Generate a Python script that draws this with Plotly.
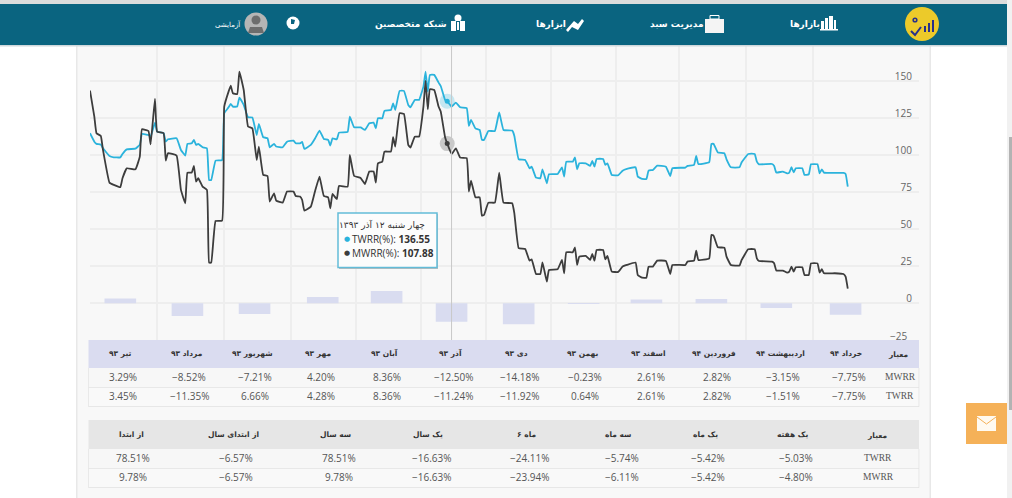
"""Portfolio return page - TWRR/MWRR chart with monthly bars and two tables."""
import plotly.graph_objects as go

W, H = 1012, 498

# trading days, counted from 1 Tir 93
days = [0, 2, 3, 5, 6, 9, 11, 14, 15, 17, 21, 23, 24, 27, 28, 30, 31, 34, 35, 36, 40, 42, 44, 45, 47, 48, 49, 50,
        52, 54, 55, 56, 58, 61, 62, 64, 65, 66, 68, 69, 71, 73, 75, 77, 78, 80, 82, 83, 85, 86, 89, 91, 94, 95, 97,
        98, 99, 102, 104, 106, 108, 110, 111, 112, 114, 115, 119, 120, 122, 125, 127, 129, 131, 132, 133, 135, 136,
        139, 140, 141, 143, 145, 147, 148, 150, 152, 154, 155, 156, 157, 159, 161, 162, 164, 165, 167, 169, 171,
        174, 175, 176, 178, 180, 181, 182, 184, 187, 189, 191, 195, 196, 198, 201, 203, 204, 206, 208, 209, 211,
        212, 216, 218, 219, 220, 223, 224, 225, 226, 229, 231, 232, 233, 234, 237, 238, 239, 241, 244, 246, 248,
        252, 253, 255, 257, 258, 260, 262, 266, 268, 269, 275, 276, 279, 280, 281, 286, 287, 288, 290, 293, 294,
        296, 300, 301, 304, 307, 308, 309, 315, 316, 317, 320, 322, 323, 324, 325, 326, 329, 330, 332, 333, 336,
        337, 338, 339, 344, 348, 349, 350]

twrr = [114.9, 109.2, 107.7, 107.2, 104.7, 99.5, 98.6, 98.6, 100.9, 104, 104.5, 107.2, 114.4, 113.7, 112.6, 122.1,
        116, 114.9, 109.2, 110.8, 111.5, 103.6, 99.8, 107.7, 108.1, 110.4, 107, 107.7, 105.4, 104.7, 83.3, 83.3,
        96.4, 96.8, 128.4, 132.4, 134.7, 132.9, 132.9, 139, 134, 125.7, 125.5, 113.7, 121.2, 112.2, 111.5, 105.4,
        107.7, 105.9, 105.4, 109.2, 109.9, 108.1, 108.1, 109, 104.3, 107, 111.5, 116.7, 111, 110.4, 106.5, 111.5,
        110.8, 115.3, 115.8, 126.1, 118.9, 118.9, 117.1, 121.6, 122.1, 118.2, 125, 125, 130, 130.6, 135.1, 130.6,
        143.5, 143.5, 134, 132.4, 137.4, 137.4, 146.4, 156.5, 143, 154.3, 154.3, 149.1, 146.8, 137.4, 136.55, 132.9,
        135.6, 132.4, 131.8, 119.8, 123.9, 118.2, 117.1, 110.4, 110.4, 116.4, 116.4, 129, 117.1, 116.7, 113.1, 97.3,
        96.8, 91.2, 92.3, 84.9, 84.5, 90.5, 81.1, 87.2, 87.4, 91.9, 85.6, 95.7, 95.7, 98.6, 90.5, 94.6, 94.6, 92.8,
        96.2, 92.3, 97.5, 97.5, 93.5, 94.6, 86.7, 86.5, 89.6, 90.8, 91.9, 85.6, 84, 84, 89.6, 90.1, 93, 92.3, 86,
        91.2, 91.7, 92.8, 93.5, 99.5, 94.1, 95.3, 107.7, 107.7, 101.8, 101.4, 97.3, 91.9, 91.9, 95.3, 100.9, 100.9,
        95.7, 93.9, 94.1, 92.8, 88.3, 89, 87.8, 88.3, 91.9, 88.5, 91.2, 91.2, 86.7, 87.2, 93.9, 93.9, 87.8, 90.5,
        88.3, 88.1, 88.1, 87.4, 78.8]

mwrr = [143.7, 126.1, 114.9, 113.1, 103.6, 81.5, 80, 78.4, 84.5, 91.2, 90.5, 99.1, 117.6, 116.4, 107.4, 138.1, 116,
        114.9, 96.4, 101.4, 99.8, 76.6, 67.6, 88.3, 88.3, 92.8, 82.2, 84.5, 78.8, 76.6, 27.5, 27.5, 55.6, 55.9,
        132.9, 143, 147, 141.9, 141.4, 156.5, 144.1, 119.4, 118.2, 96.8, 105.9, 86.7, 86, 68.7, 74.3, 69.4, 68,
        75.5, 75.5, 72.5, 72.1, 69.8, 62.6, 65.3, 76.1, 85.6, 72.5, 71.6, 64.2, 73.9, 70.3, 79.3, 78.8, 100.2, 86,
        84.7, 80.6, 89, 89, 81.5, 94.6, 95.7, 102.5, 102.5, 112.2, 105.9, 128.4, 127.9, 107, 105.2, 112.6, 112.6,
        132.9, 150.5, 131.1, 144.6, 144.1, 132.9, 129.5, 112.2, 107.88, 100.9, 104.7, 98.4, 98, 75.5, 82.9, 71.6,
        71.6, 59.2, 59.7, 68, 68, 88.3, 68, 67.6, 60.8, 37.2, 36.7, 28.8, 29.7, 19.8, 19.8, 27.7, 14.6, 22.5, 23,
        29.3, 20.3, 34.5, 34.5, 37.8, 25.9, 31.5, 32, 29.3, 33.3, 28.8, 36, 36, 29.7, 32, 21.4, 21.2, 24.8, 25.9,
        27.5, 19.1, 17.3, 17.3, 24.8, 24.8, 28.8, 28.6, 19.8, 25.9, 25.9, 28.2, 28.8, 35.6, 29.3, 30.4, 46.2, 45.7,
        37.8, 37.6, 31.5, 25.9, 25.5, 29.3, 36.5, 36.5, 30.4, 28.6, 28.2, 27, 22.1, 22.1, 20.7, 21.4, 24.8, 21.4,
        24.3, 24.3, 19.1, 19.1, 27, 27, 20.7, 23, 20.3, 20.3, 19.8, 18, 9.9]

month_starts = [0, 31, 62, 93, 123, 153, 183, 213, 243, 272, 303, 334]
bar_days = [14, 45, 76, 107.5, 137, 167, 198, 228, 257, 287, 317, 349]
y_ticks = [-25, 0, 25, 50, 75, 100, 125, 150]

months = ["تیر ۹۳", "مرداد ۹۳", "شهریور ۹۳", "مهر ۹۳", "آبان ۹۳", "آذر ۹۳", "دی ۹۳", "بهمن ۹۳", "اسفند ۹۳",
          "فروردین ۹۴", "اردیبهشت ۹۴", "خرداد ۹۴"]
month_mwrr = [3.29, -8.52, -7.21, 4.20, 8.36, -12.50, -14.18, -0.23, 2.61, 2.82, -3.15, -7.75]
month_twrr = [3.45, -11.35, 6.66, 4.28, 8.36, -11.24, -11.92, 0.64, 2.61, 2.82, -1.51, -7.75]

periods = ["از ابتدا", "از ابتدای سال", "سه سال", "یک سال", "۶ ماه", "سه ماه", "یک ماه", "یک هفته"]
period_twrr = [78.51, -6.57, 78.51, -16.63, -24.11, -5.74, -5.42, -5.03]
period_mwrr = [9.78, -6.57, 9.78, -16.63, -23.94, -6.11, -5.42, -4.80]

hover_day = 165
hover_twrr = 136.55
hover_mwrr = 107.88
hover_label = "چهار شنبه ۱۲ آذر ۱۳۹۳"

nav_items = ["بازارها", "مدیریت سبد", "ابزارها", "شبکه متخصصین"]

TEAL = "#0a6480"
BLUE = "#2bb3dc"
DARK = "#3d3d3d"
FA_FONT = "DejaVu Sans"
NUM_FONT = "Open Sans"


def px(x):
    return x / W


def py(y):
    return 1 - y / H


def rect(x0, y0, x1, y1, fill, line=None, layer="above", width=1):
    return dict(type="rect", xref="paper", yref="paper", x0=px(x0), x1=px(x1), y0=py(y0), y1=py(y1),
                fillcolor=fill, line=dict(color=line, width=width if line else 0), layer=layer)


def circle(cx, cy, r, fill):
    return dict(type="circle", xref="paper", yref="paper", x0=px(cx - r), x1=px(cx + r), y0=py(cy - r), y1=py(cy + r),
                fillcolor=fill, line=dict(width=0), layer="above")


def path(points, fill=None, line=None, width=1):
    d = "M " + " L ".join(f"{px(x):.5f},{py(y):.5f}" for x, y in points)
    if fill:
        d += " Z"
    return dict(type="path", xref="paper", yref="paper", path=d, fillcolor=fill,
                line=dict(color=line, width=width if line else 0), layer="above")


def label(x, y, text, size=10, color="#555555", family=NUM_FONT, anchor="center", bold=False):
    if bold:
        text = f"<b>{text}</b>"
    return dict(xref="paper", yref="paper", x=px(x), y=py(y), text=text, showarrow=False, xanchor=anchor,
                yanchor="middle", font=dict(size=size, color=color, family=family))


def pct(v):
    return f"{v:.2f}%".replace("-", "−")


shapes, notes = [], []

# page: side margins, textured card, scrollbar
shapes += [
    rect(77, 45, 930, H, "#f8f8f8", layer="below"),
    rect(76, 45, 77.5, H, "#e8e8e8", layer="below"),
    rect(929.5, 45, 931, H, "#e8e8e8", layer="below"),
    rect(1007, 0, 1012, H, "#f1f1f1"),
    rect(1009, 137, 1012, 410, "#b3b3b3"),
]

# header bar
shapes += [
    rect(0, 0, 1007, 4, "#dcdcdc"),
    rect(0, 4, 1007, 45, TEAL),
    rect(0, 45, 1007, 46.5, "#cfd8dc"),
    circle(922, 24, 17, "#ecca2a"),
    path([(911, 31), (915, 35), (921, 27)], line="#27308a", width=2),
    circle(915, 20, 2.6, "#27308a"),
    circle(915, 20, 1.1, "#ecca2a"),
    rect(924, 26, 926, 32, "#27308a"),
    rect(928, 23, 930, 32, "#27308a"),
    rect(932, 20, 934, 32, "#27308a"),
    # markets icon
    rect(821, 21, 824, 29, "white"), rect(825, 18, 828, 29, "white"), rect(829, 16, 833, 29, "white"),
    rect(834, 20, 836, 29, "white"), rect(820, 29, 838, 30.5, "white"),
    # basket icon
    rect(705, 19, 724, 33, "#f4f4f4"), rect(710, 15.5, 719, 19, TEAL, line="white"),
    # tools icon
    path([(566, 30), (574, 21), (578, 24), (582, 19), (584, 21), (578, 30), (572, 27), (568, 32)], fill="white"),
    # experts icon
    circle(458, 18, 3.5, "white"), rect(451, 21, 465, 31, "white"), rect(456, 21, 460, 31, TEAL),
    rect(457, 22, 459, 30, "white"),
    # globe and avatar
    circle(293, 23, 6.5, "white"),
    path([(291, 19), (295, 20), (294, 24), (291, 24)], fill=TEAL),
    circle(256, 24, 11.5, "#b5b5b5"),
    circle(256, 20, 4.5, "#6d6d6d"),
    path([(248, 33), (250, 27), (262, 27), (264, 33)], fill="#6d6d6d"),
]
for x, text in zip([805, 677, 551, 411], nav_items):
    notes.append(label(x, 25, text, size=9, color="white", family=FA_FONT, bold=True))
notes.append(label(228, 24, "آزمایشی", size=7, color="white", family=FA_FONT))

# contact box
shapes += [
    rect(966, 403, 1007, 444, "#f5b158"),
    rect(977, 416, 996, 431, "#fffaf0"),
    path([(977, 417), (986.5, 424), (996, 417)], line="#f5b158", width=1),
]

# inside tick labels drop the one at the axis edge, so -25 goes here
notes.append(label(909, 336, f"−{abs(y_ticks[0])}", size=10, color="#666666", anchor="right"))

# monthly table
shapes += [
    rect(88.5, 340, 919, 368, "#dadcf0"),
    rect(88.5, 368, 919, 387, "#f7f7f7"),
    rect(88.5, 387, 919, 406, "#f9f9f9"),
    rect(88.5, 387, 919, 387.7, "#e2e2e2"),
    rect(88.5, 406, 919, 406.7, "#e2e2e2"),
    rect(88, 368, 88.7, 406.7, "#e2e2e2"),
    rect(918.6, 368, 919.3, 406.7, "#e2e2e2"),
]
head_x = [120, 186.7, 252, 318, 384, 450, 516, 582, 648, 714, 780, 846]
value_x = [122.7, 189, 255, 321, 387, 453, 519, 585, 651, 717, 783, 849]
for i, name in enumerate(months):
    notes.append(label(head_x[i], 353, name, size=7.5, color="#333333", family=FA_FONT, bold=True))
    notes.append(label(value_x[i], 377, pct(month_mwrr[i])))
    notes.append(label(value_x[i], 396, pct(month_twrr[i])))
notes.append(label(898, 354, "معیار", size=7.5, color="#333333", family=FA_FONT, bold=True))
notes.append(label(900, 377, "MWRR", size=9.5, family="Liberation Serif"))
notes.append(label(900, 396, "TWRR", size=9.5, family="Liberation Serif"))

# period table
shapes += [
    rect(88.5, 420, 919, 449, "#e6e6e6"),
    rect(88.5, 449, 919, 468, "#f7f7f7"),
    rect(88.5, 468, 919, 487, "#f9f9f9"),
    rect(88.5, 468, 919, 468.7, "#e2e2e2"),
    rect(88.5, 487, 919, 487.7, "#e2e2e2"),
    rect(88, 449, 88.7, 487.7, "#e2e2e2"),
    rect(918.6, 449, 919.3, 487.7, "#e2e2e2"),
]
head_x2 = [131.7, 233, 335.7, 428, 526, 618, 705.7, 792.7]
value_x2 = [133.3, 236, 338.7, 431, 529, 621.7, 708, 795.7]
for i, name in enumerate(periods):
    notes.append(label(head_x2[i], 434, name, size=7.5, color="#333333", family=FA_FONT, bold=True))
    notes.append(label(value_x2[i], 458, pct(period_twrr[i])))
    notes.append(label(value_x2[i], 477, pct(period_mwrr[i])))
notes.append(label(876.7, 435, "معیار", size=7.5, color="#333333", family=FA_FONT, bold=True))
notes.append(label(878, 458, "TWRR", size=9.5, family="Liberation Serif"))
notes.append(label(878, 477, "MWRR", size=9.5, family="Liberation Serif"))

# hover crosshair and tooltip
shapes += [
    dict(type="line", xref="x", yref="paper", x0=bar_days[5], x1=bar_days[5], y0=py(340), y1=py(46),
         line=dict(color="#c8c8c8", width=1), layer="above"),
    rect(339, 214, 438, 269, "#bdbdbd"),
    rect(338, 213, 437, 267.5, "#fcfcfc", line="#63bcd8", width=1.5),
]
notes.append(label(381.5, 224, hover_label, size=9, color="#333333", family=FA_FONT))
notes.append(label(347, 239, "●", size=7, color=BLUE, family=FA_FONT))
notes.append(label(350, 239, f"TWRR(%): <b>{hover_twrr:.2f}</b>", size=10, color="#333333", anchor="left"))
notes.append(label(347, 253, "●", size=7, color=DARK, family=FA_FONT))
notes.append(label(350, 253, f"MWRR(%): <b>{hover_mwrr:.2f}</b>", size=10, color="#333333", anchor="left"))

fig = go.Figure()
fig.add_bar(x=bar_days, y=month_mwrr, width=14.6, marker=dict(color="#d9dcf0", line=dict(width=0)))
fig.add_scatter(x=days, y=twrr, mode="lines", line=dict(color=BLUE, width=1.8, shape="spline", smoothing=0.3))
fig.add_scatter(x=days, y=mwrr, mode="lines", line=dict(color=DARK, width=1.8, shape="spline", smoothing=0.3))
fig.add_scatter(x=[hover_day], y=[hover_twrr], mode="markers", marker=dict(size=15, color=BLUE, opacity=0.25))
fig.add_scatter(x=[hover_day], y=[hover_mwrr], mode="markers", marker=dict(size=15, color=DARK, opacity=0.25))
fig.add_scatter(x=[hover_day], y=[hover_twrr], mode="markers", marker=dict(size=5, color=BLUE))
fig.add_scatter(x=[hover_day], y=[hover_mwrr], mode="markers", marker=dict(size=5, color=DARK))

fig.update_layout(
    width=W, height=H,
    margin=dict(l=0, r=0, t=0, b=0),
    paper_bgcolor="white",
    plot_bgcolor="rgba(0,0,0,0)",
    showlegend=False,
    hovermode=False,
    shapes=shapes,
    annotations=notes,
    xaxis=dict(domain=[px(90), px(919)], range=[0, 382.9], tickvals=month_starts, showticklabels=False,
               showgrid=True, gridcolor="#eeeeee", gridwidth=1.5, zeroline=False, ticks=""),
    yaxis=dict(domain=[py(340.6), py(45)], range=[-25.2, 174.5], tickvals=y_ticks, side="right",
               ticklabelposition="inside", ticklabelstandoff=4, ticklabelshift=-5,
               tickfont=dict(size=10, color="#666666", family=NUM_FONT),
               showgrid=True, gridcolor="#eeeeee", gridwidth=1.5, zeroline=False, ticks=""),
)

fig.write_html("out.html", config=dict(displayModeBar=False),
               post_script="document.body.style.margin='0';document.body.style.overflow='hidden';")
